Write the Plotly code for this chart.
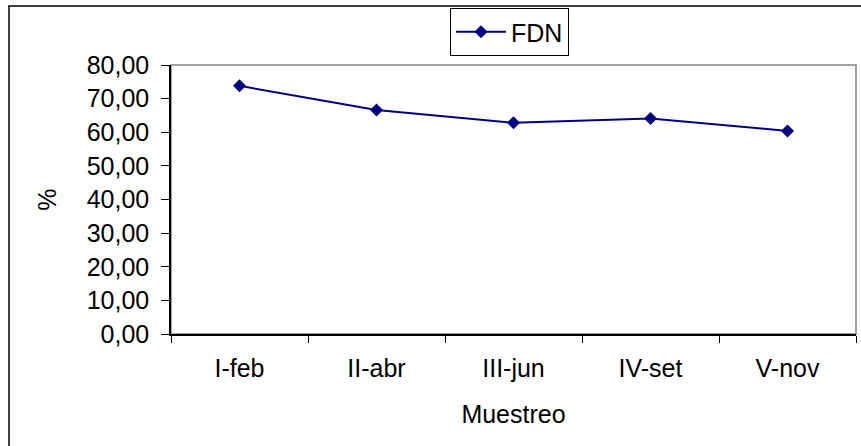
import plotly.graph_objects as go

categories = ["I-feb", "II-abr", "III-jun", "IV-set", "V-nov"]
fdn_values = [73.8, 66.6, 62.8, 64.1, 60.4]
series_name = "FDN"
y_ticks = [0, 10, 20, 30, 40, 50, 60, 70, 80]

W, H = 861, 446
L, R, T, B = 171, 5, 65, 112
pw, ph = W - L - R, H - T - B

font = dict(family="Liberation Sans, Arial, sans-serif", size=25, color="black")

fig = go.Figure()
fig.add_trace(go.Scatter(
    x=categories, y=fdn_values, name=series_name, mode="lines+markers",
    line=dict(color="#000080", width=2),
    marker=dict(symbol="diamond", size=10, color="#000080"),
))

def px_x(p):
    return (p - L) / pw

def px_y(p):
    return (H - B - p) / ph

fig.update_layout(
    width=W, height=H,
    margin=dict(l=L, r=R, t=T, b=B, autoexpand=False),
    paper_bgcolor="white", plot_bgcolor="white",
    font=font,
    separators=",.",
    showlegend=True,
    legend=dict(
        x=px_x(450), y=px_y(8), xanchor="left", yanchor="top",
        bordercolor="black", borderwidth=1, bgcolor="white",
        font=font, itemwidth=50,
    ),
    xaxis=dict(
        type="category", range=[-0.5, 4.5],
        showline=True, linecolor="black", linewidth=1.5,
        ticks="outside", ticklen=7, tickcolor="black", tickwidth=1,
        tickson="boundaries", showgrid=False, zeroline=False,
        ticklabelstandoff=11, automargin=False,
        title=dict(text="Muestreo", font=font, standoff=25),
    ),
    yaxis=dict(
        range=[0, 80], tickvals=y_ticks, tickformat=".2f",
        showline=True, linecolor="black", linewidth=1.5,
        ticks="outside", ticklen=8, tickcolor="black", tickwidth=1,
        showgrid=False, zeroline=False, automargin=False,
        ticklabelstandoff=7,
        title=dict(text="%", font=font, standoff=23),
    ),
    shapes=[
        # plot-area border (top & right gray)
        dict(type="rect", xref="paper", yref="paper", x0=0, x1=1, y0=0, y1=1,
             line=dict(color="#a0a0a0", width=2), layer="below"),
        # outer chart frame
        dict(type="rect", xref="paper", yref="paper",
             x0=px_x(9), x1=px_x(880), y0=px_y(470), y1=px_y(6),
             line=dict(color="black", width=1.5)),
    ],
)

fig.write_html("out.html", config={"displayModeBar": False},
               post_script="document.body.style.margin='0';")
